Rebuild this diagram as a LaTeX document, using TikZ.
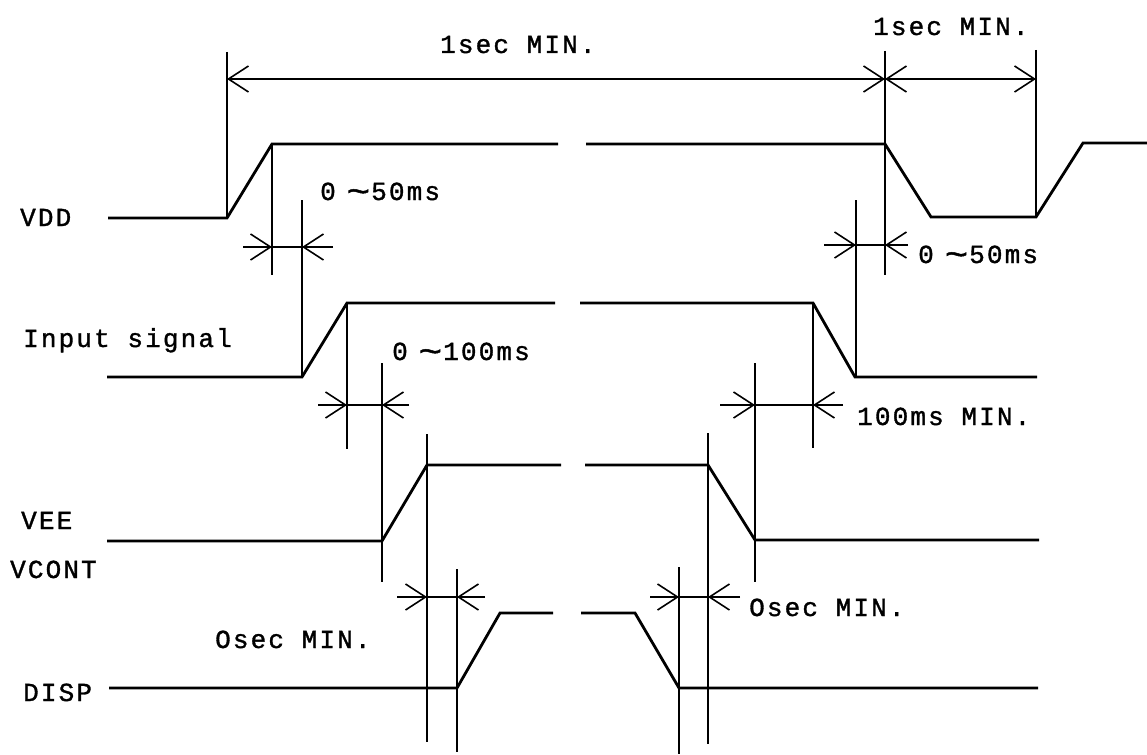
\documentclass[tikz,border=0pt]{standalone}
\usepackage{fontspec}
\newfontfamily\tmfont{Liberation Mono}[LetterSpace=8.2, FakeBold=1.3]
\newcommand\wave{\makebox[17.7pt][c]{\raisebox{-2.5pt}{\scalebox{1.5}[1.3]{\textasciitilde}}\hspace{8pt}}}
\usetikzlibrary{arrows.meta}

\begin{document}
\begin{tikzpicture}[x=1pt, y=-1pt,
    sig/.style={line width=2.8pt, line join=miter},
    ext/.style={line width=1.5pt},
    dimline/.style={line width=1.6pt},
    lbl/.style={anchor=base west, inner sep=0pt, font=\tmfont\fontsize{26}{26}\selectfont},
    >={Straight Barb[length=20pt, width=26pt]}]
    \useasboundingbox (0,0) rectangle (1147,754);

    % waveforms
    \draw[sig] (108,218) -- (227,218) -- (272,144) -- (558,144);
    \draw[sig] (586,144) -- (885,144) -- (931,217) -- (1036,217) -- (1083,143) -- (1147,143);
    \draw[sig] (107,377) -- (302,377) -- (347,303) -- (555,303);
    \draw[sig] (580,303) -- (813,303) -- (855,377) -- (1037,377);
    \draw[sig] (107,541) -- (382,541) -- (427,465) -- (561,465);
    \draw[sig] (585,465) -- (708,465) -- (755,540) -- (1039,540);
    \draw[sig] (109,688) -- (457,688) -- (500,613) -- (553,613);
    \draw[sig] (581,613) -- (635,613) -- (679,688) -- (1038,688);

    % extension lines
    \foreach \x/\ya/\yb in {
        227/52/218, 272/144/275, 302/200/377, 347/303/449,
        382/363/582, 427/434/742, 457/569/752,
        885/51/275, 1036/50/217, 856/200/377, 813/303/448,
        755/363/582, 708/433/744, 679/567/754
    }{
        \draw[ext] (\x,\ya) -- (\x,\yb);
    }

    % dimensions
    \coordinate (t0) at (227,79);
    \coordinate (t1) at (885,79);
    \coordinate (t2) at (1036,79);
    \draw[dimline,<->] (t0) -- (t1);
    \draw[dimline,<->] (t1) -- (t2);
    \foreach \xa/\xb/\y/\la/\lb in {
        272/302/247/243/333,
        856/885/245/824/908,
        347/382/405/318/409,
        755/813/405/720/843,
        427/457/597/397/485,
        679/708/597/650/740
    }{
        \draw[dimline,->] (\la,\y) -- (\xa,\y);
        \draw[dimline] (\xa,\y) -- (\xb,\y);
        \draw[dimline,->] (\lb,\y) -- (\xb,\y);
    }

    % labels
    \foreach \x/\y/\txt [count=\i] in {
        440/53/1sec MIN.,
        873/35/1sec MIN.,
        320/200/0 \wave50ms,
        918/263/0 \wave50ms,
        392/360/0 \wave100ms,
        857/425/100ms MIN.,
        215/648/Osec MIN.,
        749/616/Osec MIN.,
        20/226/VDD,
        23/347/Input signal,
        21/529/VEE,
        10/578/VCONT,
        23/701/DISP
    }{
        \node[lbl] (lbl\i) at (\x,\y) {\txt};
    }
\end{tikzpicture}
\end{document}
